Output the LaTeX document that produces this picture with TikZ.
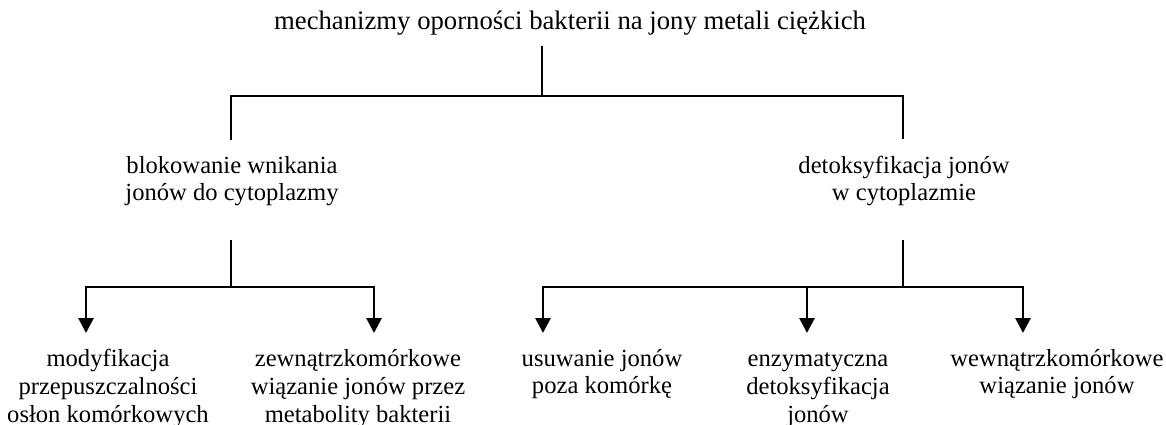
\documentclass[tikz,border=0pt]{standalone}
\usepackage{fontspec}
\setmainfont{Liberation Serif}
\usetikzlibrary{arrows.meta}

\begin{document}
\begin{tikzpicture}[x=0.02cm,y=-0.02cm,line width=1.6pt]
\tikzstyle{every node}=[inner sep=0pt, align=center, font=\fontsize{14}{15.9}\selectfont]
\tikzstyle{down}=[-{Triangle[width=0.3cm,length=0.3cm]}]
\useasboundingbox (0,0) rectangle (1166,425);
% texts (base = baseline of the last line)
\draw (570,30) node (root) [anchor=base, font=\fontsize{15.2}{17}\selectfont] {mechanizmy oporności bakterii na jony metali ciężkich};
\draw (232,201) node (blk) [anchor=base] {blokowanie wnikania\\jonów do cytoplazmy};
\draw (904,201) node (det) [anchor=base] {detoksyfikacja jonów\\w cytoplazmie};
\draw (108,422) node (mod) [anchor=base] {modyfikacja\\przepuszczalności\\osłon komórkowych};
\draw (358,422) node (zew) [anchor=base] {zewnątrzkomórkowe\\wiązanie jonów przez\\metabolity bakterii};
\draw (602,394) node (usu) [anchor=base] {usuwanie jonów\\poza komórkę};
\draw (818,422) node (enz) [anchor=base] {enzymatyczna\\detoksyfikacja\\jonów};
\draw (1057,394) node (wew) [anchor=base] {wewnątrzkomórkowe\\wiązanie jonów};
% junctions and arrow ends
\coordinate (r1) at (542,96);
\coordinate (l1) at (231,287);
\coordinate (r2) at (903,287);
\coordinate (t1) at (86,333);
\coordinate (t2) at (374,333);
\coordinate (t3) at (543,333);
\coordinate (t4) at (807,333);
\coordinate (t5) at (1023,333);
% connectors
\draw [shorten <=0.18cm] (r1 |- root.south) -- (r1);
\draw [shorten <=0.3cm, shorten >=0.3cm] (l1 |- blk.north) |- (r1) -| (r2 |- det.north);
\draw [shorten <=0.64cm] (l1 |- blk.south) -- (l1);
\draw [shorten <=0.64cm] (r2 |- det.south) -- (r2);
\draw [down] (l1) -| (t1);
\draw [down] (l1) -| (t2);
\draw [down] (r2) -| (t3);
\draw [down] (r2) -| (t4);
\draw [down] (r2) -| (t5);
\end{tikzpicture}
\end{document}
